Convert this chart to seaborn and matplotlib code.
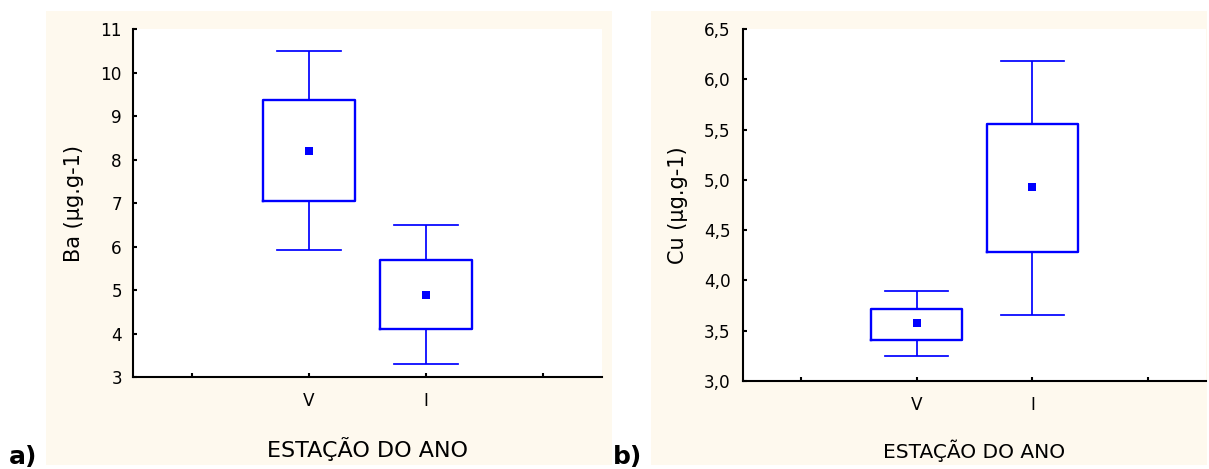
import numpy as np
import pandas as pd
import matplotlib
matplotlib.use("Agg")
import matplotlib.pyplot as plt
from matplotlib.patches import Rectangle
import seaborn as sns

# ---------------- data ----------------
seasons = ["V", "I"]
x_ticklabels = ["", "V", "I", ""]

ba_whisker_low = [5.91, 3.31]
ba_box_low = [7.04, 4.10]
ba_mean = [8.19, 4.88]
ba_box_high = [9.36, 5.70]
ba_whisker_high = [10.49, 6.50]
ba_yticks = [3, 4, 5, 6, 7, 8, 9, 10, 11]
ba_yticklabels = ["3", "4", "5", "6", "7", "8", "9", "10", "11"]

cu_whisker_low = [3.25, 3.66]
cu_box_low = [3.41, 4.285]
cu_mean = [3.58, 4.93]
cu_box_high = [3.72, 5.56]
cu_whisker_high = [3.89, 6.185]
cu_yticks = [3.0, 3.5, 4.0, 4.5, 5.0, 5.5, 6.0, 6.5]
cu_yticklabels = ["3,0", "3,5", "4,0", "4,5", "5,0", "5,5", "6,0", "6,5"]

xlabel = "ESTAÇÃO DO ANO"
ba_ylabel = "Ba (µg.g-1)"
cu_ylabel = "Cu (µg.g-1)"

BLUE = "#0000FF"
CREAM = "#FEF9EE"

plt.rcParams["font.family"] = ["DejaVu Sans"]


def long_frame(wl, bl, m, bh, wh):
    rows = []
    for i, s in enumerate(seasons):
        for v in (wl[i], bl[i], m[i], bh[i], wh[i]):
            rows.append({"season": s, "value": v})
    return pd.DataFrame(rows)


W, H = 1209, 469
fig = plt.figure(figsize=(W / 100, H / 100), dpi=100)
fig.patch.set_facecolor("white")

# cream panel backgrounds
for (x0, x1) in [(46, 612), (651, 1207)]:
    fig.add_artist(Rectangle((x0 / W, 1 - 465 / H), (x1 - x0) / W, (465 - 11) / H,
                             transform=fig.transFigure, facecolor=CREAM,
                             edgecolor="none", zorder=0))

ax1 = fig.add_axes([133 / W, 1 - 377 / H, (602 - 133) / W, (377 - 29) / H])
ax2 = fig.add_axes([743 / W, 1 - 381 / H, (1206 - 743) / W, (381 - 29) / H])

panels = [
    (ax1, long_frame(ba_whisker_low, ba_box_low, ba_mean, ba_box_high, ba_whisker_high),
     ba_mean, ba_yticks, ba_yticklabels, ba_ylabel, 16, 12, 8, 19),
    (ax2, long_frame(cu_whisker_low, cu_box_low, cu_mean, cu_box_high, cu_whisker_high),
     cu_mean, cu_yticks, cu_yticklabels, cu_ylabel, 14.5, 11, 9, 18),
]

for ax, df, means, yt, ytl, ylab, xl_size, ylpad, ytpad, xlpad in panels:
    ax.set_facecolor("white")
    sns.boxplot(data=df, x="season", y="value", order=seasons, ax=ax,
                whis=(0, 100), width=0.79, fill=False, color=BLUE,
                linewidth=1.7, capwidths=0.55,
                medianprops={"visible": False},
                whiskerprops={"linewidth": 1.25},
                capprops={"linewidth": 1.25})
    mdf = pd.DataFrame({"season": seasons, "value": means})
    sns.pointplot(data=mdf, x="season", y="value", order=seasons, ax=ax,
                  color=BLUE, marker="s", linestyle="none", errorbar=None,
                  markersize=6, markeredgewidth=0)
    ax.set_xlim(-1.5, 2.5)
    ax.set_xticks([-1, 0, 1, 2])
    ax.set_xticklabels(x_ticklabels)
    ax.set_ylim(yt[0], yt[-1])
    ax.set_yticks(yt)
    ax.set_yticklabels(ytl)
    for side in ("top", "right"):
        ax.spines[side].set_visible(False)
    for side in ("left", "bottom"):
        ax.spines[side].set_linewidth(1.5)
        ax.spines[side].set_color("black")
    ax.tick_params(axis="both", direction="in", length=3, width=1.5,
                   labelsize=12.2, colors="black")
    ax.tick_params(axis="y", pad=ytpad)
    ax.tick_params(axis="x", pad=11)
    ax.set_xlabel(xlabel, fontsize=xl_size, labelpad=xlpad)
    ax.set_ylabel(ylab, fontsize=15, labelpad=ylpad)

fig.text(9 / W, 0 / H, "a)", fontsize=18, fontweight="bold", ha="left", va="bottom")
fig.text(613 / W, 0 / H, "b)", fontsize=18, fontweight="bold", ha="left", va="bottom")

fig.savefig("out.png", dpi=100, facecolor="white")
